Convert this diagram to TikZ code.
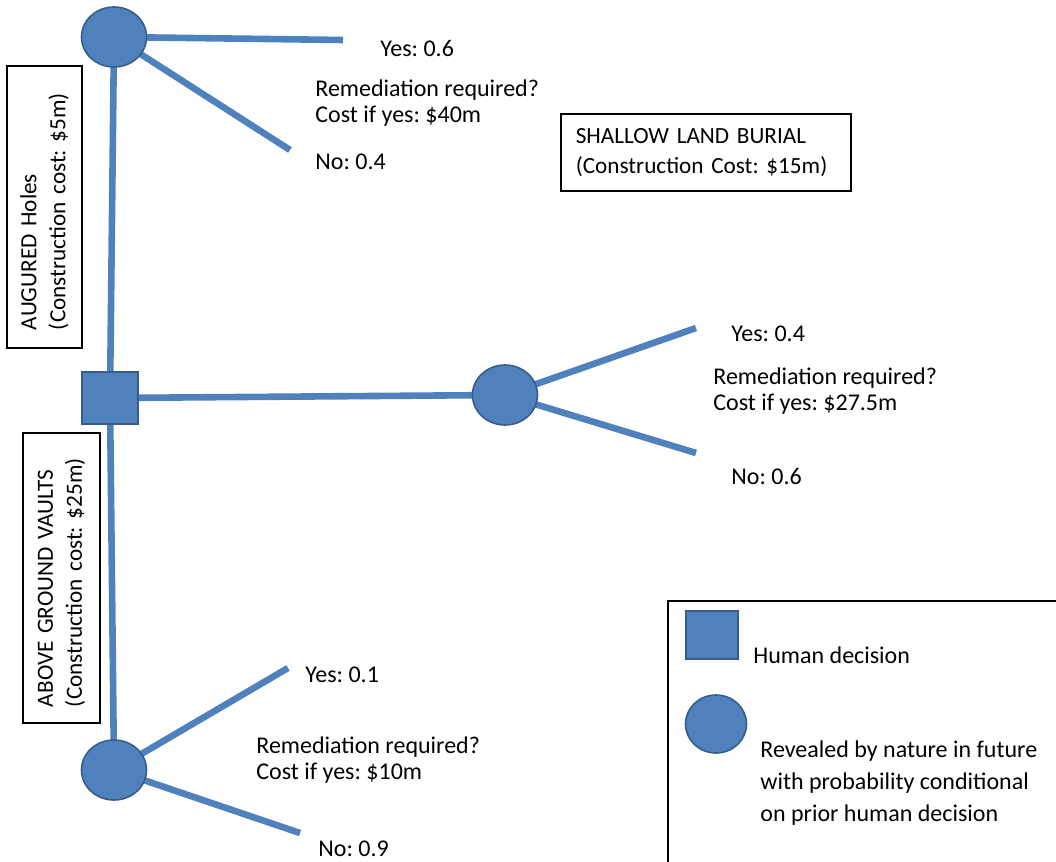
\documentclass[tikz,border=0pt]{standalone}
\usepackage{fontspec}
\setmainfont{Carlito}
\usepackage{tikz}
\usetikzlibrary{shapes.geometric,backgrounds}
\definecolor{nodeblue}{HTML}{4F81BD}
\definecolor{nodeedge}{HTML}{385D8A}

\begin{document}
\frenchspacing
\begin{tikzpicture}[x=0.5pt,y=-0.5pt,every node/.style={font=\fontsize{12}{13}\selectfont},
 chance/.style={ellipse,draw=nodeedge,fill=nodeblue,line width=0.8pt,minimum width=32.5pt,minimum height=30pt,inner sep=0pt},
 decision/.style={rectangle,draw=nodeedge,fill=nodeblue,line width=0.8pt,minimum width=28pt,minimum height=26pt,inner sep=0pt},
 branch/.style={draw=nodeblue,line width=3.3pt},
 lbl/.style={anchor=west,align=left,inner sep=0pt},
 costbox/.style={draw,line width=0.8pt,align=left,inner ysep=0pt,font=\fontsize{11.6}{14.5}\selectfont}]
\useasboundingbox (0,0) rectangle (1056,862);

\node[chance] (augc) at (114,37) {};
\node[decision] (dec) at (110,398) {};
\node[chance] (slbc) at (505,395) {};
\node[chance] (vltc) at (114,770) {};

\coordinate (ay) at (343,40);
\coordinate (an) at (290,150);
\coordinate (sy) at (696,328);
\coordinate (sn) at (696,453);
\coordinate (vy) at (288,668);
\coordinate (vn) at (300,833);

\begin{scope}[on background layer]
\foreach \from/\to in {dec/augc,dec/vltc,dec/slbc,augc/ay,augc/an,slbc/sy,slbc/sn,vltc/vy,vltc/vn}
\draw[branch] (\from.center) -- (\to.center);
\end{scope}

\node[costbox,rotate=90,minimum width=141pt,minimum height=37.5pt,inner xsep=9pt,text width=123pt] (augbox) at (44.5,207) {AUGURED Holes\\(Construction cost: \$5m)};
\node[costbox,rotate=90,minimum width=145pt,minimum height=38.5pt,inner xsep=8pt,text width=129pt] (vltbox) at (61.5,578) {ABOVE GROUND VAULTS\\(Construction cost: \$25m)};
\node[costbox,anchor=north west,minimum width=145pt,minimum height=38.5pt,inner xsep=7.5pt,text width=130pt,font=\fontsize{11.6}{15}\selectfont] (slbbox) at (560,113) {SHALLOW LAND BURIAL\\(Construction Cost: \$15m)};

\node[lbl] (y1) at (380,48) {Yes: 0.6};
\node[lbl] (r1) at (315,103) {Remediation required?\\Cost if yes: \$40m};
\node[lbl] (n1) at (315,162) {No: 0.4};
\node[lbl] (y2) at (731,334) {Yes: 0.4};
\node[lbl] (r2) at (713,391) {Remediation required?\\Cost if yes: \$27.5m};
\node[lbl] (n2) at (731,476) {No: 0.6};
\node[lbl] (y3) at (305,675) {Yes: 0.1};
\node[lbl] (r3) at (256,760) {Remediation required?\\Cost if yes: \$10m};
\node[lbl] (n3) at (318,849) {No: 0.9};

\draw[line width=0.8pt] (1056,601) -- (668,601) -- (668,862);
\node[decision,minimum width=26pt,minimum height=24pt] (legdec) at (712,635) {};
\node[chance,minimum width=30.5pt,minimum height=29pt] (legchc) at (716,724) {};
\node[lbl] (legdectxt) at (753,655) {Human decision};
\node[lbl,font=\fontsize{12}{16}\selectfont] (legchctxt) at (760,783) {Revealed by nature in future\\with probability conditional\\on prior human decision};
\end{tikzpicture}
\end{document}
